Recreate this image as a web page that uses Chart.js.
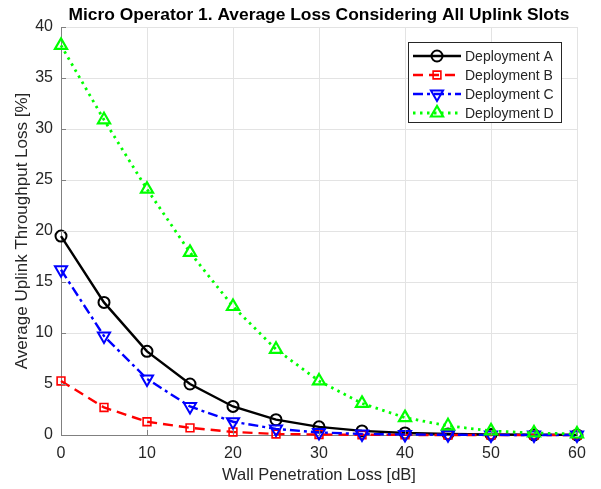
<!DOCTYPE html>
<html>
<head>
<meta charset="utf-8">
<script src="https://cdn.jsdelivr.net/npm/chart.js@4/dist/chart.umd.min.js"></script>
<style>
html,body{margin:0;padding:0;background:#fff;}
#wrap{width:601px;height:489px;position:relative;}
</style>
</head>
<body>
<div id="wrap"><canvas id="c" width="601" height="489"></canvas></div>
<script>
const chartTitle = 'Micro Operator 1. Average Loss Considering All Uplink Slots';
const xTitle = 'Wall Penetration Loss [dB]';
const yTitle = 'Average Uplink Throughput Loss [%]';
const wallLoss = [0, 5, 10, 15, 20, 25, 30, 35, 40, 45, 50, 55, 60];
const seriesNames = ['Deployment A', 'Deployment B', 'Deployment C', 'Deployment D'];
const deploymentA = [19.5, 13.0, 8.2, 5.0, 2.8, 1.5, 0.8, 0.4, 0.2, 0.1, 0.05, 0.02, 0.01];
const deploymentB = [5.3, 2.7, 1.3, 0.7, 0.3, 0.1, 0.05, 0.02, 0.01, 0.0, 0.0, 0.0, 0.0];
const deploymentC = [16.2, 9.7, 5.5, 2.8, 1.3, 0.6, 0.25, 0.1, 0.05, 0.02, 0.01, 0.0, 0.0];
const deploymentD = [38.2, 30.9, 24.1, 17.9, 12.6, 8.4, 5.3, 3.1, 1.7, 0.9, 0.4, 0.2, 0.1];
const xTicks = [0, 10, 20, 30, 40, 50, 60];
const yTicks = [0, 5, 10, 15, 20, 25, 30, 35, 40];

const FONT = '"Liberation Sans", Arial, Helvetica, sans-serif';
const TXT = '#262626';

function pts(arr){ return arr.map((v,i)=>({x: wallLoss[i], y: v})); }

const styles = [
  {color:'#000000', dash:[], marker:'circle', r:5.5, rot:0, lw:2.4, mlw:2},
  {color:'#ff0000', dash:[10,6], marker:'rect', r:5.5, rot:0, lw:2.4, mlw:1.6},
  {color:'#0000ff', dash:[10,4,3,4], marker:'triangle', r:7, rot:180, lw:2.4, mlw:2},
  {color:'#00ff00', dash:[2.5,4.5], marker:'triangle', r:7, rot:0, lw:2.8, mlw:2.2}
];
const dataArrays = [deploymentA, deploymentB, deploymentC, deploymentD];

const datasets = dataArrays.map((arr, i) => ({
  label: seriesNames[i],
  data: pts(arr),
  borderColor: styles[i].color,
  backgroundColor: 'rgba(0,0,0,0)',
  borderWidth: styles[i].lw,
  borderDash: styles[i].dash,
  pointStyle: styles[i].marker,
  pointRadius: styles[i].r,
  pointRotation: styles[i].rot,
  pointBorderColor: styles[i].color,
  pointBackgroundColor: 'rgba(0,0,0,0)',
  pointBorderWidth: styles[i].mlw,
  tension: 0,
  clip: false,
  order: 4 - i
}));

function drawMarker(ctx, st, x, y){
  ctx.save();
  ctx.setLineDash([]);
  ctx.strokeStyle = st.color;
  ctx.lineWidth = st.mlw;
  ctx.beginPath();
  const r = st.r;
  if (st.marker === 'circle'){
    ctx.arc(x, y, r, 0, Math.PI*2);
  } else if (st.marker === 'rect'){
    const s = r*Math.SQRT1_2;
    ctx.rect(x - s, y - s, 2*s, 2*s);
  } else {
    const dir = st.rot === 180 ? -1 : 1;
    ctx.moveTo(x, y - dir*r);
    ctx.lineTo(x - r*0.866, y + dir*r*0.5);
    ctx.lineTo(x + r*0.866, y + dir*r*0.5);
    ctx.closePath();
  }
  ctx.stroke();
  ctx.restore();
}

const decorPlugin = {
  id: 'decor',
  afterDraw(chart){
    const ctx = chart.ctx;
    const ca = chart.chartArea;
    const xs = chart.scales.x, ys = chart.scales.y;
    ctx.save();
    ctx.strokeStyle = '#808080';
    ctx.lineWidth = 1;
    ctx.setLineDash([]);
    ctx.beginPath();
    xTicks.forEach(t => { const px = Math.round(xs.getPixelForValue(t)) + 0.5; ctx.moveTo(px, ca.bottom); ctx.lineTo(px, ca.bottom - 5); });
    yTicks.forEach(t => { const py = Math.round(ys.getPixelForValue(t)) + 0.5; ctx.moveTo(ca.left, py); ctx.lineTo(ca.left + 5, py); });
    ctx.stroke();
    ctx.fillStyle = '#000';
    ctx.font = 'bold 17.4px ' + FONT;
    ctx.textAlign = 'center';
    ctx.textBaseline = 'middle';
    ctx.fillText(chartTitle, (ca.left + ca.right)/2, 15);
    const bx = 408, by = 42, bw = 153, bh = 80;
    ctx.fillStyle = '#ffffff';
    ctx.fillRect(bx, by, bw, bh);
    ctx.strokeStyle = '#262626';
    ctx.lineWidth = 1;
    ctx.strokeRect(bx + 0.5, by + 0.5, bw, bh);
    ctx.font = '14px ' + FONT;
    ctx.textAlign = 'left';
    ctx.textBaseline = 'middle';
    const rows = [56, 75, 94, 113];
    styles.forEach((st, i) => {
      const y = rows[i];
      ctx.save();
      ctx.strokeStyle = st.color;
      ctx.lineWidth = st.lw;
      ctx.setLineDash(st.dash);
      ctx.beginPath();
      ctx.moveTo(413, y);
      ctx.lineTo(461, y);
      ctx.stroke();
      ctx.restore();
      drawMarker(ctx, st, 437, y);
      ctx.fillStyle = TXT;
      ctx.fillText(seriesNames[i], 465, y + 1);
    });
    ctx.restore();
  }
};

new Chart(document.getElementById('c'), {
  type: 'line',
  data: { datasets },
  options: {
    responsive: false,
    animation: false,
    layout: { padding: { top: 27, right: 24, left: 0, bottom: 0 } },
    plugins: { legend: { display: false }, title: { display: false }, tooltip: { enabled: false } },
    scales: {
      x: {
        type: 'linear', min: 0, max: 60,
        afterFit(s){ s.height = 54; },
        afterBuildTicks(s){ s.ticks = xTicks.map(v => ({value: v})); },
        grid: { color: '#e3e3e3', drawTicks: false, lineWidth: 1 },
        border: { color: '#808080', width: 1 },
        ticks: { color: TXT, font: { family: FONT, size: 16 }, padding: 9, maxRotation: 0 },
        title: { display: true, text: xTitle, color: TXT, font: { family: FONT, size: 16.5 }, padding: { top: 0 } }
      },
      y: {
        type: 'linear', min: 0, max: 40,
        afterFit(s){ s.width = 61; },
        afterBuildTicks(s){ s.ticks = yTicks.map(v => ({value: v})); },
        grid: { color: '#e3e3e3', drawTicks: false, lineWidth: 1 },
        border: { color: '#808080', width: 1 },
        ticks: { color: TXT, font: { family: FONT, size: 16 }, padding: 8 },
        title: { display: true, text: yTitle, color: TXT, font: { family: FONT, size: 17 }, padding: { bottom: 0, top: 12 } }
      }
    }
  },
  plugins: [decorPlugin]
});
</script>
</body>
</html>
